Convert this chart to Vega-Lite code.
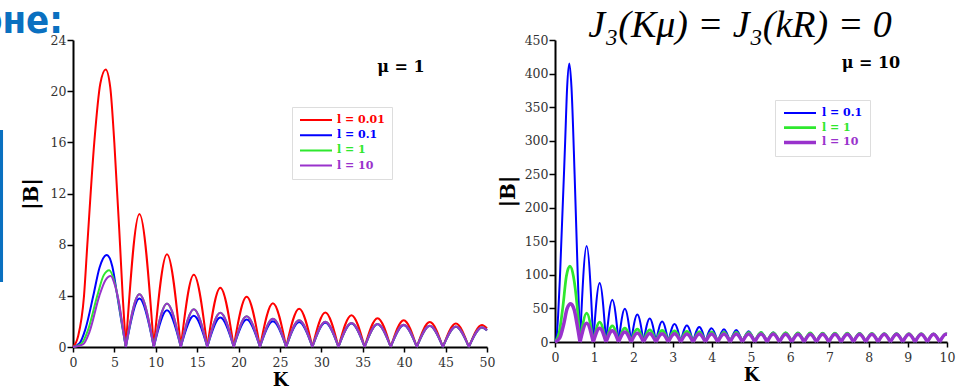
{
"$schema": "https://vega.github.io/schema/vega-lite/v6.json",
"autosize": {"type": "none"},
"padding": {"left": 73, "top": 40, "right": 884, "bottom": 347},
"background": "white",
"spacing": 68,
"bounds": "flush",
"resolve": {"scale": {"color": "independent", "strokeWidth": "independent"}, "legend": {"color": "independent"}},
"datasets": {
"left": [
{"l":"0.01","a":1,"K":0,"B":0},{"l":"0.01","a":1,"K":0.6,"B":0.8},{"l":"0.01","a":1,"K":1.33,"B":4},{"l":"0.01","a":1,"K":1.73,"B":8},{"l":"0.01","a":1,"K":2.57,"B":16},{"l":"0.01","a":1,"K":3.3,"B":20.6},{"l":"0.01","a":1,"K":3.95,"B":21.7},{"l":"0.01","a":1,"K":4.5,"B":20.3},{"l":"0.01","a":1,"K":4.99,"B":16},{"l":"0.01","a":1,"K":5.68,"B":8},{"l":"0.01","a":1,"K":6.0,"B":4},{"l":"0.01","a":1,"K":6.38,"B":0},
{"l":"0.01","a":2,"K":6.38,"B":0},{"l":"0.01","a":2,"K":8.02,"B":10.4},{"l":"0.01","a":2,"K":9.76,"B":0},
{"l":"0.01","a":3,"K":9.76,"B":0},{"l":"0.01","a":3,"K":11.35,"B":7.25},{"l":"0.01","a":3,"K":13.02,"B":0},
{"l":"0.01","a":4,"K":13.02,"B":0},{"l":"0.01","a":4,"K":14.59,"B":5.65},{"l":"0.01","a":4,"K":16.22,"B":0},
{"l":"0.01","a":5,"K":16.22,"B":0},{"l":"0.01","a":5,"K":17.79,"B":4.63},{"l":"0.01","a":5,"K":19.41,"B":0},
{"l":"0.01","a":6,"K":19.41,"B":0},{"l":"0.01","a":6,"K":20.97,"B":3.93},{"l":"0.01","a":6,"K":22.58,"B":0},
{"l":"0.01","a":7,"K":22.58,"B":0},{"l":"0.01","a":7,"K":24.14,"B":3.42},{"l":"0.01","a":7,"K":25.75,"B":0},
{"l":"0.01","a":8,"K":25.75,"B":0},{"l":"0.01","a":8,"K":27.31,"B":3.0},{"l":"0.01","a":8,"K":28.91,"B":0},
{"l":"0.01","a":9,"K":28.91,"B":0},{"l":"0.01","a":9,"K":30.47,"B":2.7},{"l":"0.01","a":9,"K":32.06,"B":0},
{"l":"0.01","a":10,"K":32.06,"B":0},{"l":"0.01","a":10,"K":33.63,"B":2.48},{"l":"0.01","a":10,"K":35.22,"B":0},
{"l":"0.01","a":11,"K":35.22,"B":0},{"l":"0.01","a":11,"K":36.78,"B":2.25},{"l":"0.01","a":11,"K":38.37,"B":0},
{"l":"0.01","a":12,"K":38.37,"B":0},{"l":"0.01","a":12,"K":39.94,"B":2.1},{"l":"0.01","a":12,"K":41.52,"B":0},
{"l":"0.01","a":13,"K":41.52,"B":0},{"l":"0.01","a":13,"K":43.09,"B":1.95},{"l":"0.01","a":13,"K":44.67,"B":0},
{"l":"0.01","a":14,"K":44.67,"B":0},{"l":"0.01","a":14,"K":46.24,"B":1.83},{"l":"0.01","a":14,"K":47.81,"B":0},
{"l":"0.01","a":15,"K":47.81,"B":0},{"l":"0.01","a":15,"K":49.39,"B":1.72},{"l":"0.01","a":15,"K":50,"B":1.45},

{"l":"0.1","a":1,"K":0,"B":0},{"l":"0.1","a":1,"K":0.8,"B":0.3},{"l":"0.1","a":1,"K":1.5,"B":1.4},{"l":"0.1","a":1,"K":2.45,"B":4},{"l":"0.1","a":1,"K":3.2,"B":6.2},{"l":"0.1","a":1,"K":4.07,"B":7.2},{"l":"0.1","a":1,"K":4.75,"B":6.3},{"l":"0.1","a":1,"K":5.35,"B":4},{"l":"0.1","a":1,"K":5.9,"B":1.8},{"l":"0.1","a":1,"K":6.38,"B":0},
{"l":"0.1","a":2,"K":6.38,"B":0},{"l":"0.1","a":2,"K":8.02,"B":3.8},{"l":"0.1","a":2,"K":9.76,"B":0},
{"l":"0.1","a":3,"K":9.76,"B":0},{"l":"0.1","a":3,"K":11.35,"B":2.88},{"l":"0.1","a":3,"K":13.02,"B":0},
{"l":"0.1","a":4,"K":13.02,"B":0},{"l":"0.1","a":4,"K":14.59,"B":2.45},{"l":"0.1","a":4,"K":16.22,"B":0},
{"l":"0.1","a":5,"K":16.22,"B":0},{"l":"0.1","a":5,"K":17.79,"B":2.3},{"l":"0.1","a":5,"K":19.41,"B":0},
{"l":"0.1","a":6,"K":19.41,"B":0},{"l":"0.1","a":6,"K":20.97,"B":2.15},{"l":"0.1","a":6,"K":22.58,"B":0},
{"l":"0.1","a":7,"K":22.58,"B":0},{"l":"0.1","a":7,"K":24.14,"B":2.02},{"l":"0.1","a":7,"K":25.75,"B":0},
{"l":"0.1","a":8,"K":25.75,"B":0},{"l":"0.1","a":8,"K":27.31,"B":1.96},{"l":"0.1","a":8,"K":28.91,"B":0},
{"l":"0.1","a":9,"K":28.91,"B":0},{"l":"0.1","a":9,"K":30.47,"B":1.9},{"l":"0.1","a":9,"K":32.06,"B":0},
{"l":"0.1","a":10,"K":32.06,"B":0},{"l":"0.1","a":10,"K":33.63,"B":1.84},{"l":"0.1","a":10,"K":35.22,"B":0},
{"l":"0.1","a":11,"K":35.22,"B":0},{"l":"0.1","a":11,"K":36.78,"B":1.77},{"l":"0.1","a":11,"K":38.37,"B":0},
{"l":"0.1","a":12,"K":38.37,"B":0},{"l":"0.1","a":12,"K":39.94,"B":1.7},{"l":"0.1","a":12,"K":41.52,"B":0},
{"l":"0.1","a":13,"K":41.52,"B":0},{"l":"0.1","a":13,"K":43.09,"B":1.64},{"l":"0.1","a":13,"K":44.67,"B":0},
{"l":"0.1","a":14,"K":44.67,"B":0},{"l":"0.1","a":14,"K":46.24,"B":1.58},{"l":"0.1","a":14,"K":47.81,"B":0},
{"l":"0.1","a":15,"K":47.81,"B":0},{"l":"0.1","a":15,"K":49.39,"B":1.52},{"l":"0.1","a":15,"K":50,"B":1.3},

{"l":"1","a":1,"K":0,"B":0},{"l":"1","a":1,"K":1.0,"B":0.25},{"l":"1","a":1,"K":1.8,"B":1.3},{"l":"1","a":1,"K":2.93,"B":4},{"l":"1","a":1,"K":3.7,"B":5.6},{"l":"1","a":1,"K":4.38,"B":6.0},{"l":"1","a":1,"K":5.0,"B":5.1},{"l":"1","a":1,"K":5.52,"B":3.5},{"l":"1","a":1,"K":6.0,"B":1.5},{"l":"1","a":1,"K":6.38,"B":0},
{"l":"1","a":2,"K":6.38,"B":0},{"l":"1","a":2,"K":8.02,"B":4.12},{"l":"1","a":2,"K":9.76,"B":0},
{"l":"1","a":3,"K":9.76,"B":0},{"l":"1","a":3,"K":11.35,"B":3.4},{"l":"1","a":3,"K":13.02,"B":0},
{"l":"1","a":4,"K":13.02,"B":0},{"l":"1","a":4,"K":14.59,"B":2.95},{"l":"1","a":4,"K":16.22,"B":0},
{"l":"1","a":5,"K":16.22,"B":0},{"l":"1","a":5,"K":17.79,"B":2.68},{"l":"1","a":5,"K":19.41,"B":0},
{"l":"1","a":6,"K":19.41,"B":0},{"l":"1","a":6,"K":20.97,"B":2.4},{"l":"1","a":6,"K":22.58,"B":0},
{"l":"1","a":7,"K":22.58,"B":0},{"l":"1","a":7,"K":24.14,"B":2.2},{"l":"1","a":7,"K":25.75,"B":0},
{"l":"1","a":8,"K":25.75,"B":0},{"l":"1","a":8,"K":27.31,"B":2.1},{"l":"1","a":8,"K":28.91,"B":0},
{"l":"1","a":9,"K":28.91,"B":0},{"l":"1","a":9,"K":30.47,"B":1.98},{"l":"1","a":9,"K":32.06,"B":0},
{"l":"1","a":10,"K":32.06,"B":0},{"l":"1","a":10,"K":33.63,"B":1.88},{"l":"1","a":10,"K":35.22,"B":0},
{"l":"1","a":11,"K":35.22,"B":0},{"l":"1","a":11,"K":36.78,"B":1.8},{"l":"1","a":11,"K":38.37,"B":0},
{"l":"1","a":12,"K":38.37,"B":0},{"l":"1","a":12,"K":39.94,"B":1.73},{"l":"1","a":12,"K":41.52,"B":0},
{"l":"1","a":13,"K":41.52,"B":0},{"l":"1","a":13,"K":43.09,"B":1.66},{"l":"1","a":13,"K":44.67,"B":0},
{"l":"1","a":14,"K":44.67,"B":0},{"l":"1","a":14,"K":46.24,"B":1.6},{"l":"1","a":14,"K":47.81,"B":0},
{"l":"1","a":15,"K":47.81,"B":0},{"l":"1","a":15,"K":49.39,"B":1.54},{"l":"1","a":15,"K":50,"B":1.3},

{"l":"10","a":1,"K":0,"B":0},{"l":"10","a":1,"K":1.2,"B":0.2},{"l":"10","a":1,"K":2.0,"B":1.2},{"l":"10","a":1,"K":3.18,"B":4},{"l":"10","a":1,"K":3.9,"B":5.2},{"l":"10","a":1,"K":4.55,"B":5.55},{"l":"10","a":1,"K":5.1,"B":4.75},{"l":"10","a":1,"K":5.52,"B":3.6},{"l":"10","a":1,"K":6.0,"B":1.6},{"l":"10","a":1,"K":6.38,"B":0},
{"l":"10","a":2,"K":6.38,"B":0},{"l":"10","a":2,"K":8.02,"B":4.12},{"l":"10","a":2,"K":9.76,"B":0},
{"l":"10","a":3,"K":9.76,"B":0},{"l":"10","a":3,"K":11.35,"B":3.4},{"l":"10","a":3,"K":13.02,"B":0},
{"l":"10","a":4,"K":13.02,"B":0},{"l":"10","a":4,"K":14.59,"B":2.95},{"l":"10","a":4,"K":16.22,"B":0},
{"l":"10","a":5,"K":16.22,"B":0},{"l":"10","a":5,"K":17.79,"B":2.68},{"l":"10","a":5,"K":19.41,"B":0},
{"l":"10","a":6,"K":19.41,"B":0},{"l":"10","a":6,"K":20.97,"B":2.4},{"l":"10","a":6,"K":22.58,"B":0},
{"l":"10","a":7,"K":22.58,"B":0},{"l":"10","a":7,"K":24.14,"B":2.2},{"l":"10","a":7,"K":25.75,"B":0},
{"l":"10","a":8,"K":25.75,"B":0},{"l":"10","a":8,"K":27.31,"B":2.1},{"l":"10","a":8,"K":28.91,"B":0},
{"l":"10","a":9,"K":28.91,"B":0},{"l":"10","a":9,"K":30.47,"B":1.98},{"l":"10","a":9,"K":32.06,"B":0},
{"l":"10","a":10,"K":32.06,"B":0},{"l":"10","a":10,"K":33.63,"B":1.88},{"l":"10","a":10,"K":35.22,"B":0},
{"l":"10","a":11,"K":35.22,"B":0},{"l":"10","a":11,"K":36.78,"B":1.8},{"l":"10","a":11,"K":38.37,"B":0},
{"l":"10","a":12,"K":38.37,"B":0},{"l":"10","a":12,"K":39.94,"B":1.73},{"l":"10","a":12,"K":41.52,"B":0},
{"l":"10","a":13,"K":41.52,"B":0},{"l":"10","a":13,"K":43.09,"B":1.66},{"l":"10","a":13,"K":44.67,"B":0},
{"l":"10","a":14,"K":44.67,"B":0},{"l":"10","a":14,"K":46.24,"B":1.6},{"l":"10","a":14,"K":47.81,"B":0},
{"l":"10","a":15,"K":47.81,"B":0},{"l":"10","a":15,"K":49.39,"B":1.54},{"l":"10","a":15,"K":50,"B":1.3}
],
"right": [
{"l":"0.1","a":1,"K":0,"B":0},{"l":"0.1","a":1,"K":0.04,"B":8},{"l":"0.1","a":1,"K":0.08,"B":40},{"l":"0.1","a":1,"K":0.13,"B":102},{"l":"0.1","a":1,"K":0.26,"B":300},{"l":"0.1","a":1,"K":0.31,"B":380},{"l":"0.1","a":1,"K":0.365,"B":415},{"l":"0.1","a":1,"K":0.42,"B":380},{"l":"0.1","a":1,"K":0.5,"B":250},{"l":"0.1","a":1,"K":0.58,"B":100},{"l":"0.1","a":1,"K":0.638,"B":0},
{"l":"0.1","a":2,"K":0.638,"B":0},{"l":"0.1","a":2,"K":0.807,"B":143},{"l":"0.1","a":2,"K":0.976,"B":0},
{"l":"0.1","a":3,"K":0.976,"B":0},{"l":"0.1","a":3,"K":1.139,"B":88},{"l":"0.1","a":3,"K":1.302,"B":0},
{"l":"0.1","a":4,"K":1.302,"B":0},{"l":"0.1","a":4,"K":1.462,"B":63},{"l":"0.1","a":4,"K":1.622,"B":0},
{"l":"0.1","a":5,"K":1.622,"B":0},{"l":"0.1","a":5,"K":1.782,"B":49.5},{"l":"0.1","a":5,"K":1.941,"B":0},
{"l":"0.1","a":6,"K":1.941,"B":0},{"l":"0.1","a":6,"K":2.1,"B":41},{"l":"0.1","a":6,"K":2.258,"B":0},
{"l":"0.1","a":7,"K":2.258,"B":0},{"l":"0.1","a":7,"K":2.417,"B":35},{"l":"0.1","a":7,"K":2.575,"B":0},
{"l":"0.1","a":8,"K":2.575,"B":0},{"l":"0.1","a":8,"K":2.733,"B":30.5},{"l":"0.1","a":8,"K":2.891,"B":0},
{"l":"0.1","a":9,"K":2.891,"B":0},{"l":"0.1","a":9,"K":3.049,"B":27},{"l":"0.1","a":9,"K":3.206,"B":0},
{"l":"0.1","a":10,"K":3.206,"B":0},{"l":"0.1","a":10,"K":3.364,"B":24.5},{"l":"0.1","a":10,"K":3.522,"B":0},
{"l":"0.1","a":11,"K":3.522,"B":0},{"l":"0.1","a":11,"K":3.68,"B":22.5},{"l":"0.1","a":11,"K":3.837,"B":0},
{"l":"0.1","a":12,"K":3.837,"B":0},{"l":"0.1","a":12,"K":3.995,"B":20.5},{"l":"0.1","a":12,"K":4.152,"B":0},
{"l":"0.1","a":13,"K":4.152,"B":0},{"l":"0.1","a":13,"K":4.31,"B":19},{"l":"0.1","a":13,"K":4.467,"B":0},
{"l":"0.1","a":14,"K":4.467,"B":0},{"l":"0.1","a":14,"K":4.624,"B":18},{"l":"0.1","a":14,"K":4.781,"B":0},
{"l":"0.1","a":15,"K":4.781,"B":0},{"l":"0.1","a":15,"K":4.939,"B":16},{"l":"0.1","a":15,"K":5.097,"B":0},
{"l":"0.1","a":16,"K":5.097,"B":0},{"l":"0.1","a":16,"K":5.254,"B":14.6},{"l":"0.1","a":16,"K":5.411,"B":0},
{"l":"0.1","a":17,"K":5.411,"B":0},{"l":"0.1","a":17,"K":5.568,"B":14},{"l":"0.1","a":17,"K":5.725,"B":0},
{"l":"0.1","a":18,"K":5.725,"B":0},{"l":"0.1","a":18,"K":5.883,"B":13.8},{"l":"0.1","a":18,"K":6.04,"B":0},
{"l":"0.1","a":19,"K":6.04,"B":0},{"l":"0.1","a":19,"K":6.198,"B":13.6},{"l":"0.1","a":19,"K":6.355,"B":0},
{"l":"0.1","a":20,"K":6.355,"B":0},{"l":"0.1","a":20,"K":6.512,"B":13.5},{"l":"0.1","a":20,"K":6.669,"B":0},
{"l":"0.1","a":21,"K":6.669,"B":0},{"l":"0.1","a":21,"K":6.827,"B":13.3},{"l":"0.1","a":21,"K":6.984,"B":0},
{"l":"0.1","a":22,"K":6.984,"B":0},{"l":"0.1","a":22,"K":7.141,"B":13.2},{"l":"0.1","a":22,"K":7.298,"B":0},
{"l":"0.1","a":23,"K":7.298,"B":0},{"l":"0.1","a":23,"K":7.456,"B":13.1},{"l":"0.1","a":23,"K":7.613,"B":0},
{"l":"0.1","a":24,"K":7.613,"B":0},{"l":"0.1","a":24,"K":7.77,"B":12.9},{"l":"0.1","a":24,"K":7.927,"B":0},
{"l":"0.1","a":25,"K":7.927,"B":0},{"l":"0.1","a":25,"K":8.084,"B":12.8},{"l":"0.1","a":25,"K":8.241,"B":0},
{"l":"0.1","a":26,"K":8.241,"B":0},{"l":"0.1","a":26,"K":8.399,"B":12.6},{"l":"0.1","a":26,"K":8.556,"B":0},
{"l":"0.1","a":27,"K":8.556,"B":0},{"l":"0.1","a":27,"K":8.713,"B":12.5},{"l":"0.1","a":27,"K":8.87,"B":0},
{"l":"0.1","a":28,"K":8.87,"B":0},{"l":"0.1","a":28,"K":9.028,"B":12.4},{"l":"0.1","a":28,"K":9.185,"B":0},
{"l":"0.1","a":29,"K":9.185,"B":0},{"l":"0.1","a":29,"K":9.342,"B":12.3},{"l":"0.1","a":29,"K":9.499,"B":0},
{"l":"0.1","a":30,"K":9.499,"B":0},{"l":"0.1","a":30,"K":9.656,"B":12.2},{"l":"0.1","a":30,"K":9.813,"B":0},
{"l":"0.1","a":31,"K":9.813,"B":0},{"l":"0.1","a":31,"K":9.97,"B":12.1},{"l":"0.1","a":31,"K":10,"B":12.0},

{"l":"1","a":1,"K":0,"B":0},{"l":"1","a":1,"K":0.1,"B":12},{"l":"1","a":1,"K":0.2,"B":52},{"l":"1","a":1,"K":0.29,"B":98},{"l":"1","a":1,"K":0.38,"B":113},{"l":"1","a":1,"K":0.47,"B":98},{"l":"1","a":1,"K":0.57,"B":50},{"l":"1","a":1,"K":0.638,"B":0},
{"l":"1","a":2,"K":0.638,"B":0},{"l":"1","a":2,"K":0.807,"B":43},{"l":"1","a":2,"K":0.976,"B":0},
{"l":"1","a":3,"K":0.976,"B":0},{"l":"1","a":3,"K":1.139,"B":29.5},{"l":"1","a":3,"K":1.302,"B":0},
{"l":"1","a":4,"K":1.302,"B":0},{"l":"1","a":4,"K":1.462,"B":24},{"l":"1","a":4,"K":1.622,"B":0},
{"l":"1","a":5,"K":1.622,"B":0},{"l":"1","a":5,"K":1.782,"B":20.5},{"l":"1","a":5,"K":1.941,"B":0},
{"l":"1","a":6,"K":1.941,"B":0},{"l":"1","a":6,"K":2.1,"B":19},{"l":"1","a":6,"K":2.258,"B":0},
{"l":"1","a":7,"K":2.258,"B":0},{"l":"1","a":7,"K":2.417,"B":18},{"l":"1","a":7,"K":2.575,"B":0},
{"l":"1","a":8,"K":2.575,"B":0},{"l":"1","a":8,"K":2.733,"B":17.2},{"l":"1","a":8,"K":2.891,"B":0},
{"l":"1","a":9,"K":2.891,"B":0},{"l":"1","a":9,"K":3.049,"B":16.6},{"l":"1","a":9,"K":3.206,"B":0},
{"l":"1","a":10,"K":3.206,"B":0},{"l":"1","a":10,"K":3.364,"B":16},{"l":"1","a":10,"K":3.522,"B":0},
{"l":"1","a":11,"K":3.522,"B":0},{"l":"1","a":11,"K":3.68,"B":15.6},{"l":"1","a":11,"K":3.837,"B":0},
{"l":"1","a":12,"K":3.837,"B":0},{"l":"1","a":12,"K":3.995,"B":15.2},{"l":"1","a":12,"K":4.152,"B":0},
{"l":"1","a":13,"K":4.152,"B":0},{"l":"1","a":13,"K":4.31,"B":14.9},{"l":"1","a":13,"K":4.467,"B":0},
{"l":"1","a":14,"K":4.467,"B":0},{"l":"1","a":14,"K":4.624,"B":14.6},{"l":"1","a":14,"K":4.781,"B":0},
{"l":"1","a":15,"K":4.781,"B":0},{"l":"1","a":15,"K":4.939,"B":14.4},{"l":"1","a":15,"K":5.097,"B":0},
{"l":"1","a":16,"K":5.097,"B":0},{"l":"1","a":16,"K":5.254,"B":14.2},{"l":"1","a":16,"K":5.411,"B":0},
{"l":"1","a":17,"K":5.411,"B":0},{"l":"1","a":17,"K":5.568,"B":14},{"l":"1","a":17,"K":5.725,"B":0},
{"l":"1","a":18,"K":5.725,"B":0},{"l":"1","a":18,"K":5.883,"B":13.8},{"l":"1","a":18,"K":6.04,"B":0},
{"l":"1","a":19,"K":6.04,"B":0},{"l":"1","a":19,"K":6.198,"B":13.6},{"l":"1","a":19,"K":6.355,"B":0},
{"l":"1","a":20,"K":6.355,"B":0},{"l":"1","a":20,"K":6.512,"B":13.5},{"l":"1","a":20,"K":6.669,"B":0},
{"l":"1","a":21,"K":6.669,"B":0},{"l":"1","a":21,"K":6.827,"B":13.3},{"l":"1","a":21,"K":6.984,"B":0},
{"l":"1","a":22,"K":6.984,"B":0},{"l":"1","a":22,"K":7.141,"B":13.2},{"l":"1","a":22,"K":7.298,"B":0},
{"l":"1","a":23,"K":7.298,"B":0},{"l":"1","a":23,"K":7.456,"B":13.1},{"l":"1","a":23,"K":7.613,"B":0},
{"l":"1","a":24,"K":7.613,"B":0},{"l":"1","a":24,"K":7.77,"B":12.9},{"l":"1","a":24,"K":7.927,"B":0},
{"l":"1","a":25,"K":7.927,"B":0},{"l":"1","a":25,"K":8.084,"B":12.8},{"l":"1","a":25,"K":8.241,"B":0},
{"l":"1","a":26,"K":8.241,"B":0},{"l":"1","a":26,"K":8.399,"B":12.6},{"l":"1","a":26,"K":8.556,"B":0},
{"l":"1","a":27,"K":8.556,"B":0},{"l":"1","a":27,"K":8.713,"B":12.5},{"l":"1","a":27,"K":8.87,"B":0},
{"l":"1","a":28,"K":8.87,"B":0},{"l":"1","a":28,"K":9.028,"B":12.4},{"l":"1","a":28,"K":9.185,"B":0},
{"l":"1","a":29,"K":9.185,"B":0},{"l":"1","a":29,"K":9.342,"B":12.3},{"l":"1","a":29,"K":9.499,"B":0},
{"l":"1","a":30,"K":9.499,"B":0},{"l":"1","a":30,"K":9.656,"B":12.2},{"l":"1","a":30,"K":9.813,"B":0},
{"l":"1","a":31,"K":9.813,"B":0},{"l":"1","a":31,"K":9.97,"B":12.1},{"l":"1","a":31,"K":10,"B":12.0},

{"l":"10","a":1,"K":0,"B":0},{"l":"10","a":1,"K":0.12,"B":6},{"l":"10","a":1,"K":0.22,"B":26},{"l":"10","a":1,"K":0.31,"B":50},{"l":"10","a":1,"K":0.4,"B":57},{"l":"10","a":1,"K":0.49,"B":48},{"l":"10","a":1,"K":0.57,"B":24},{"l":"10","a":1,"K":0.638,"B":0},
{"l":"10","a":2,"K":0.638,"B":0},{"l":"10","a":2,"K":0.807,"B":28},{"l":"10","a":2,"K":0.976,"B":0},
{"l":"10","a":3,"K":0.976,"B":0},{"l":"10","a":3,"K":1.139,"B":20.5},{"l":"10","a":3,"K":1.302,"B":0},
{"l":"10","a":4,"K":1.302,"B":0},{"l":"10","a":4,"K":1.462,"B":16.8},{"l":"10","a":4,"K":1.622,"B":0},
{"l":"10","a":5,"K":1.622,"B":0},{"l":"10","a":5,"K":1.782,"B":14.8},{"l":"10","a":5,"K":1.941,"B":0},
{"l":"10","a":6,"K":1.941,"B":0},{"l":"10","a":6,"K":2.1,"B":13.5},{"l":"10","a":6,"K":2.258,"B":0},
{"l":"10","a":7,"K":2.258,"B":0},{"l":"10","a":7,"K":2.417,"B":12.8},{"l":"10","a":7,"K":2.575,"B":0},
{"l":"10","a":8,"K":2.575,"B":0},{"l":"10","a":8,"K":2.733,"B":12.4},{"l":"10","a":8,"K":2.891,"B":0},
{"l":"10","a":9,"K":2.891,"B":0},{"l":"10","a":9,"K":3.049,"B":12.2},{"l":"10","a":9,"K":3.206,"B":0},
{"l":"10","a":10,"K":3.206,"B":0},{"l":"10","a":10,"K":3.364,"B":12},{"l":"10","a":10,"K":3.522,"B":0},
{"l":"10","a":11,"K":3.522,"B":0},{"l":"10","a":11,"K":3.68,"B":11.9},{"l":"10","a":11,"K":3.837,"B":0},
{"l":"10","a":12,"K":3.837,"B":0},{"l":"10","a":12,"K":3.995,"B":11.9},{"l":"10","a":12,"K":4.152,"B":0},
{"l":"10","a":13,"K":4.152,"B":0},{"l":"10","a":13,"K":4.31,"B":11.8},{"l":"10","a":13,"K":4.467,"B":0},
{"l":"10","a":14,"K":4.467,"B":0},{"l":"10","a":14,"K":4.624,"B":11.8},{"l":"10","a":14,"K":4.781,"B":0},
{"l":"10","a":15,"K":4.781,"B":0},{"l":"10","a":15,"K":4.939,"B":11.8},{"l":"10","a":15,"K":5.097,"B":0},
{"l":"10","a":16,"K":5.097,"B":0},{"l":"10","a":16,"K":5.254,"B":11.8},{"l":"10","a":16,"K":5.411,"B":0},
{"l":"10","a":17,"K":5.411,"B":0},{"l":"10","a":17,"K":5.568,"B":11.8},{"l":"10","a":17,"K":5.725,"B":0},
{"l":"10","a":18,"K":5.725,"B":0},{"l":"10","a":18,"K":5.883,"B":11.7},{"l":"10","a":18,"K":6.04,"B":0},
{"l":"10","a":19,"K":6.04,"B":0},{"l":"10","a":19,"K":6.198,"B":11.7},{"l":"10","a":19,"K":6.355,"B":0},
{"l":"10","a":20,"K":6.355,"B":0},{"l":"10","a":20,"K":6.512,"B":11.7},{"l":"10","a":20,"K":6.669,"B":0},
{"l":"10","a":21,"K":6.669,"B":0},{"l":"10","a":21,"K":6.827,"B":11.7},{"l":"10","a":21,"K":6.984,"B":0},
{"l":"10","a":22,"K":6.984,"B":0},{"l":"10","a":22,"K":7.141,"B":11.7},{"l":"10","a":22,"K":7.298,"B":0},
{"l":"10","a":23,"K":7.298,"B":0},{"l":"10","a":23,"K":7.456,"B":11.6},{"l":"10","a":23,"K":7.613,"B":0},
{"l":"10","a":24,"K":7.613,"B":0},{"l":"10","a":24,"K":7.77,"B":11.6},{"l":"10","a":24,"K":7.927,"B":0},
{"l":"10","a":25,"K":7.927,"B":0},{"l":"10","a":25,"K":8.084,"B":11.6},{"l":"10","a":25,"K":8.241,"B":0},
{"l":"10","a":26,"K":8.241,"B":0},{"l":"10","a":26,"K":8.399,"B":11.6},{"l":"10","a":26,"K":8.556,"B":0},
{"l":"10","a":27,"K":8.556,"B":0},{"l":"10","a":27,"K":8.713,"B":11.6},{"l":"10","a":27,"K":8.87,"B":0},
{"l":"10","a":28,"K":8.87,"B":0},{"l":"10","a":28,"K":9.028,"B":11.6},{"l":"10","a":28,"K":9.185,"B":0},
{"l":"10","a":29,"K":9.185,"B":0},{"l":"10","a":29,"K":9.342,"B":11.6},{"l":"10","a":29,"K":9.499,"B":0},
{"l":"10","a":30,"K":9.499,"B":0},{"l":"10","a":30,"K":9.656,"B":11.6},{"l":"10","a":30,"K":9.813,"B":0},
{"l":"10","a":31,"K":9.813,"B":0},{"l":"10","a":31,"K":9.97,"B":11.6},{"l":"10","a":31,"K":10,"B":11.5}
]
},
"hconcat": [
{
"width": 414, "height": 307,
"title": {"text": "оне:", "anchor": "start", "frame": "group", "dx": -94, "dy": 37, "offset": 0, "baseline": "alphabetic", "font": "DejaVu Sans Condensed, Liberation Sans Narrow, DejaVu Sans", "fontSize": 38, "fontWeight": "bold", "color": "#0a70c0"},
"layer": [
{"data": {"name": "left"}, "mark": {"type": "line", "interpolate": "monotone", "strokeWidth": 2},
 "encoding": {
  "x": {"field": "K", "type": "quantitative", "scale": {"domain": [0, 50], "nice": false, "zero": false}, "axis": {"title": "K", "values": [0,5,10,15,20,25,30,35,40,45,50], "labelOverlap": false}},
  "y": {"field": "B", "type": "quantitative", "scale": {"domain": [0, 24], "nice": false}, "axis": {"title": "|B|", "values": [0,4,8,12,16,20,24], "titlePadding": 9, "labelOverlap": false}},
  "color": {"field": "l", "type": "nominal", "scale": {"domain": ["0.01","0.1","1","10"], "range": ["#ff0000","#0000ff","#2ee82e","#9932cc"]},
   "legend": {"title": null, "orient": "none", "legendX": 219, "legendY": 67, "labelExpr": "'l = ' + datum.label",
    "encode": {"labels": {"update": {"fill": [{"test": "datum.value === '0.01'", "value": "#ff0000"}, {"test": "datum.value === '0.1'", "value": "#0000ff"}, {"test": "datum.value === '1'", "value": "#2ee82e"}, {"value": "#9932cc"}]}}}}},
  "detail": {"field": "a", "type": "nominal"}
 }},
{"data": {"values": [{"t": "μ = 1"}]}, "mark": {"type": "text", "font": "DejaVu Serif", "fontWeight": "bold", "fontSize": 16, "align": "center", "baseline": "alphabetic", "color": "#000"},
 "encoding": {"x": {"datum": 39.6}, "y": {"datum": 21.5}, "text": {"field": "t"}}},
{"data": {"values": [{}]}, "mark": {"type": "rect", "color": "#0a70c0"},
 "encoding": {"x": {"datum": -8.82}, "x2": {"datum": -8.45}, "y": {"datum": 16.96}, "y2": {"datum": 5.08}}}
]
},
{
"width": 392, "height": 302,
"title": {"text": "J₃(Kμ) = J₃(kR) = 0", "anchor": "middle", "frame": "group", "dx": -11, "dy": 41, "offset": 0, "baseline": "alphabetic", "font": "Liberation Serif", "fontStyle": "italic", "fontWeight": "normal", "fontSize": 38, "color": "#000"},
"layer": [
{"data": {"name": "right"}, "mark": {"type": "line", "interpolate": "monotone"},
 "encoding": {
  "x": {"field": "K", "type": "quantitative", "scale": {"domain": [0, 10], "nice": false}, "axis": {"title": "K", "values": [0,1,2,3,4,5,6,7,8,9,10], "labelOverlap": false, "tickCount": 11}},
  "y": {"field": "B", "type": "quantitative", "scale": {"domain": [0, 450], "nice": false}, "axis": {"title": "|B|", "values": [0,50,100,150,200,250,300,350,400,450], "titlePadding": 6, "labelOverlap": false, "tickCount": 10}},
  "color": {"field": "l", "type": "nominal", "scale": {"domain": ["0.1","1","10"], "range": ["#0000ff","#2ee82e","#9932cc"]},
   "legend": {"title": null, "orient": "none", "legendX": 220, "legendY": 60, "labelExpr": "'l = ' + datum.label", "rowPadding": 2.7,
    "encode": {"labels": {"update": {"fill": [{"test": "datum.value === '0.1'", "value": "#0000ff"}, {"test": "datum.value === '1'", "value": "#2ee82e"}, {"value": "#9932cc"}]}},
               "symbols": {"update": {"strokeWidth": [{"test": "datum.value === '1'", "value": 3.5}, {"value": 2}]}}}}},
  "strokeWidth": {"field": "l", "type": "nominal", "scale": {"domain": ["0.1","1","10"], "range": [2, 3.5, 1.8]}, "legend": null},
  "detail": {"field": "a", "type": "nominal"}
 }},
{"data": {"values": [{"t": "μ = 10"}]}, "mark": {"type": "text", "font": "DejaVu Serif", "fontWeight": "bold", "fontSize": 16, "align": "center", "baseline": "alphabetic", "color": "#000"},
 "encoding": {"x": {"datum": 8.06}, "y": {"datum": 408}, "text": {"field": "t"}}}
]
}
],
"config": {
 "view": {"stroke": null},
 "axis": {"grid": false, "domainColor": "#000", "domainWidth": 2, "tickColor": "#000", "tickWidth": 1.5, "labelFont": "DejaVu Serif", "labelFontSize": 12.5, "labelColor": "#333", "titleFont": "DejaVu Serif", "titleFontWeight": "bold", "titleColor": "#000", "labelOverlap": false, "labelFlush": false, "labelBound": false},
 "axisX": {"tickSize": 5, "labelPadding": 4, "titleFontSize": 18, "titlePadding": 3},
 "axisY": {"tickSize": 6, "labelPadding": 1, "titleFontSize": 20},
 "legend": {"labelFont": "DejaVu Serif", "labelFontWeight": "bold", "labelFontSize": 11, "symbolType": "stroke", "symbolSize": 1024, "symbolStrokeWidth": 2, "clipHeight": 12, "rowPadding": 3.2, "padding": 7, "strokeColor": "#dddddd", "fillColor": "#ffffff", "labelOffset": 4, "labelLimit": 0}
}
}
